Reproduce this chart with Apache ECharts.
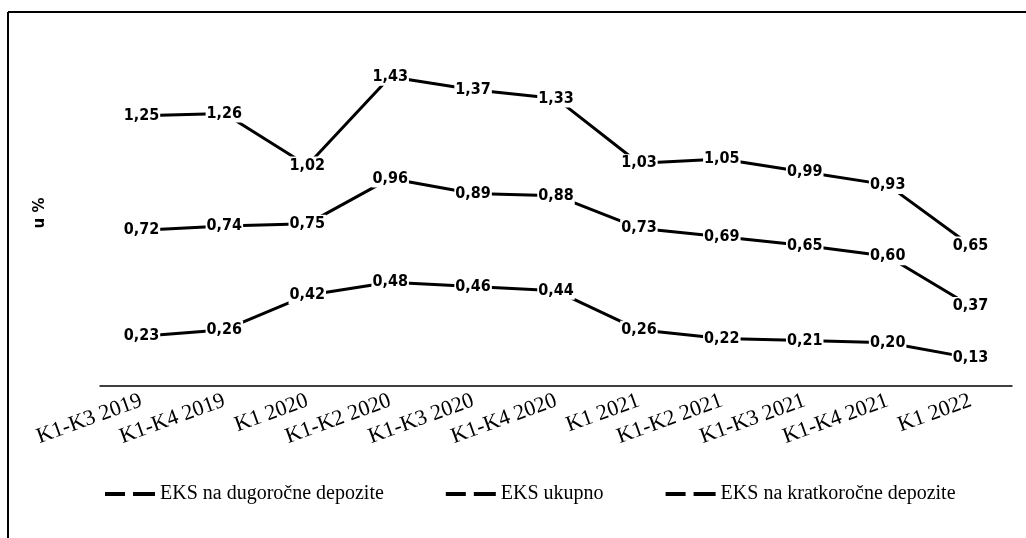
<!DOCTYPE html>
<html>
<head>
<meta charset="utf-8">
<script src="https://cdn.jsdelivr.net/npm/echarts@6/dist/echarts.min.js"></script>
<style>
html, body { margin: 0; padding: 0; background: #fff; }
#main { width: 1026px; height: 538px; }
</style>
</head>
<body>
<div id="main"></div>
<script>
var categories = ['K1-K3 2019', 'K1-K4 2019', 'K1 2020', 'K1-K2 2020', 'K1-K3 2020', 'K1-K4 2020',
	'K1 2021', 'K1-K2 2021', 'K1-K3 2021', 'K1-K4 2021', 'K1 2022'];
var dugorocne = [1.25, 1.26, 1.02, 1.43, 1.37, 1.33, 1.03, 1.05, 0.99, 0.93, 0.65];
var ukupno = [0.72, 0.74, 0.75, 0.96, 0.89, 0.88, 0.73, 0.69, 0.65, 0.60, 0.37];
var kratkorocne = [0.23, 0.26, 0.42, 0.48, 0.46, 0.44, 0.26, 0.22, 0.21, 0.20, 0.13];
var seriesNames = ['EKS na dugoročne depozite', 'EKS ukupno', 'EKS na kratkoročne depozite'];

var chart = echarts.init(document.getElementById('main'));

function makeSeries(name, data) {
	return {
		name: name,
		type: 'line',
		data: data,
		symbol: 'circle',
		symbolSize: 1,
		showSymbol: true,
		lineStyle: { color: '#000', width: 3 },
		itemStyle: { color: '#000' },
		label: {
			show: true,
			position: 'inside',
			formatter: function (p) { return p.value.toFixed(2).replace('.', ','); },
			color: '#000',
			fontFamily: 'DejaVu Sans Condensed',
			fontWeight: 'bold',
			fontSize: 16,
			backgroundColor: '#fff',
			padding: [1, 1]
		},
		z: 3
	};
}

var option = {
	backgroundColor: '#fff',
	animation: false,
	graphic: [
		{ type: 'line', shape: { x1: 8, y1: 12, x2: 1026, y2: 12 }, style: { stroke: '#000', lineWidth: 2 } },
		{ type: 'line', shape: { x1: 8, y1: 12, x2: 8, y2: 538 }, style: { stroke: '#000', lineWidth: 2 } }
	],
	grid: { left: 100, right: 14, top: 40, bottom: 152 },
	legend: {
		bottom: 29,
		left: 100,
		itemGap: 62,
		itemWidth: 50,
		itemHeight: 4,
		icon: 'path://M0,0 L20,0 L20,4 L0,4 Z M28,0 L50,0 L50,4 L28,4 Z',
		textStyle: { color: '#000', fontFamily: 'Liberation Serif', fontSize: 20 },
		data: seriesNames
	},
	xAxis: {
		type: 'category',
		data: categories,
		boundaryGap: true,
		axisLine: { lineStyle: { color: '#000', width: 1.5 } },
		axisTick: { show: false },
		axisLabel: {
			interval: 0,
			rotate: 20,
			margin: 14,
			color: '#000',
			fontFamily: 'Liberation Serif',
			fontSize: 22
		}
	},
	yAxis: {
		type: 'value',
		min: 0,
		max: 1.6,
		name: 'u %',
		nameLocation: 'middle',
		nameGap: 52,
		nameRotate: 90,
		nameTextStyle: { color: '#000', fontWeight: 'bold', fontSize: 15, fontFamily: 'DejaVu Sans' },
		axisLine: { show: false },
		axisTick: { show: false },
		axisLabel: { show: false },
		splitLine: { show: false }
	},
	series: [
		makeSeries(seriesNames[0], dugorocne),
		makeSeries(seriesNames[1], ukupno),
		makeSeries(seriesNames[2], kratkorocne)
	]
};
chart.setOption(option);

window.addEventListener('resize', function () { chart.resize(); });
</script>
</body>
</html>
